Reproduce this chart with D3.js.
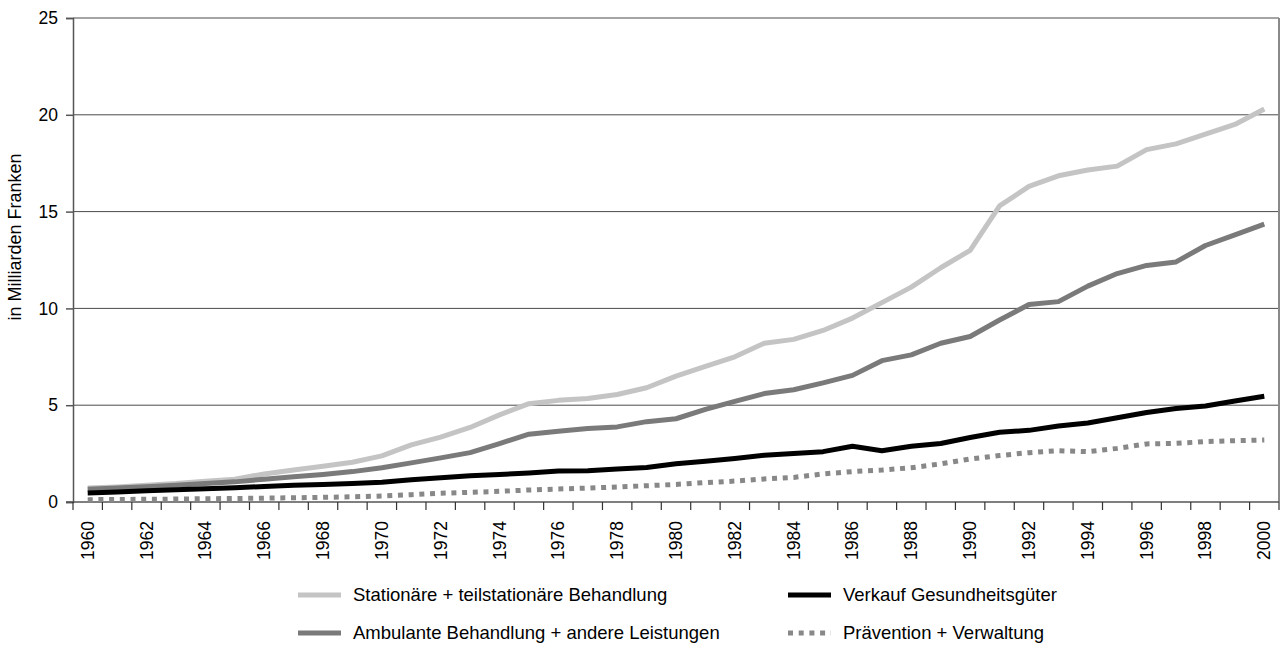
<!DOCTYPE html>
<html><head><meta charset="utf-8">
<script src="https://cdn.jsdelivr.net/npm/d3@7"></script>
<style>
html,body{margin:0;padding:0;background:#fff;}
text{font-family:"Liberation Sans",Arial,Helvetica,sans-serif;fill:#000;}
</style></head>
<body><svg id="c" width="1281" height="648"></svg>
<script>
const years = d3.range(1960, 2001);
const seriesNames = ["Stationäre + teilstationäre Behandlung","Verkauf Gesundheitsgüter","Ambulante Behandlung + andere Leistungen","Prävention + Verwaltung"];
const stationaer = [0.72,0.78,0.87,0.95,1.07,1.18,1.45,1.65,1.85,2.05,2.38,2.95,3.35,3.85,4.5,5.08,5.25,5.35,5.55,5.9,6.5,7.0,7.5,8.2,8.4,8.86,9.5,10.3,11.1,12.1,13.0,15.3,16.3,16.85,17.15,17.35,18.2,18.5,19.0,19.5,20.3];
const ambulant = [0.66,0.72,0.79,0.86,0.96,1.04,1.18,1.3,1.42,1.57,1.77,2.02,2.28,2.55,3.02,3.5,3.66,3.8,3.88,4.15,4.3,4.78,5.2,5.6,5.8,6.15,6.54,7.3,7.6,8.2,8.55,9.4,10.2,10.35,11.15,11.8,12.22,12.4,13.25,13.8,14.35];
const verkauf = [0.47,0.52,0.58,0.63,0.69,0.74,0.8,0.86,0.91,0.96,1.02,1.15,1.25,1.36,1.42,1.5,1.6,1.62,1.7,1.78,1.98,2.1,2.25,2.42,2.5,2.6,2.88,2.65,2.88,3.02,3.33,3.6,3.7,3.93,4.08,4.35,4.62,4.83,4.96,5.22,5.46];
const praevention = [0.12,0.13,0.14,0.15,0.17,0.18,0.2,0.22,0.24,0.27,0.31,0.38,0.45,0.5,0.55,0.62,0.67,0.72,0.77,0.84,0.91,1.0,1.08,1.19,1.27,1.45,1.57,1.65,1.77,1.97,2.22,2.4,2.55,2.65,2.6,2.77,3.0,3.03,3.12,3.17,3.2];
const yTicks = [0,5,10,15,20,25];
const xLabels = years.filter(y => y % 2 === 0);

const svg = d3.select("#c");
const L = 73, R = 1279, T = 18, B = 502;
const x = d3.scaleBand().domain(years).range([L, R]);
const y = d3.scaleLinear().domain([0, 25]).range([B, T]);
const cx = yr => x(yr) + x.bandwidth() / 2;

// gridlines
svg.append("g").selectAll("line").data(yTicks.filter(v => v > 0)).join("line")
  .attr("x1", L).attr("x2", R).attr("y1", d => y(d)).attr("y2", d => y(d))
  .attr("stroke", "#4a4a4a").attr("stroke-width", 1);

// right border
svg.append("line").attr("x1", R).attr("x2", R).attr("y1", T).attr("y2", B)
  .attr("stroke", "#8a8a8a").attr("stroke-width", 2);

// y axis
const yAxis = svg.append("g").attr("transform", `translate(${L},0)`)
  .call(d3.axisLeft(y).tickValues(yTicks).tickSize(7).tickPadding(8).tickFormat(d3.format("d")));
yAxis.select(".domain").attr("stroke", "#555").attr("stroke-width", 1.5);
yAxis.selectAll(".tick line").attr("stroke", "#555").attr("stroke-width", 1.5);
yAxis.selectAll("text").attr("font-size", 17.5).attr("fill", "#000")
  .style("font-family", '"Liberation Sans",Arial,sans-serif');

// x axis: line + ticks at band boundaries
svg.append("line").attr("x1", L - 7).attr("x2", R).attr("y1", B).attr("y2", B)
  .attr("stroke", "#555").attr("stroke-width", 1.5);
const bounds = years.map(yr => x(yr)).concat([R]);
svg.append("g").selectAll("line").data(bounds).join("line")
  .attr("x1", d => d).attr("x2", d => d).attr("y1", B).attr("y2", B + 8)
  .attr("stroke", "#333").attr("stroke-width", 1.2);
svg.append("g").selectAll("text").data(xLabels).join("text")
  .attr("transform", d => `translate(${cx(d) + 6},${B + 19}) rotate(-90)`)
  .attr("text-anchor", "end").attr("font-size", 17.5).text(d => d);

// y title
svg.append("text").attr("transform", `translate(21,237) rotate(-90)`)
  .attr("text-anchor", "middle").attr("font-size", 18).text("in Milliarden Franken");

// lines
const styles = [
  {data: stationaer, color: "#c4c4c4", w: 5, dash: null},
  {data: ambulant, color: "#7a7a7a", w: 5, dash: null},
  {data: verkauf, color: "#000", w: 5, dash: null},
  {data: praevention, color: "#888", w: 5, dash: "5,5.7"}
];
const line = d3.line().x((d, i) => cx(years[i])).y(d => y(d));
styles.forEach(s => {
  svg.append("path").attr("d", line(s.data)).attr("fill", "none")
    .attr("stroke", s.color).attr("stroke-width", s.w)
    .attr("stroke-dasharray", s.dash).attr("stroke-linejoin", "round");
});

// legend
const legend = [
  {name: seriesNames[0], color: "#c4c4c4", dash: null, x: 298, y: 595},
  {name: seriesNames[1], color: "#000", dash: null, x: 788, y: 595},
  {name: seriesNames[2], color: "#7a7a7a", dash: null, x: 298, y: 633},
  {name: seriesNames[3], color: "#888", dash: "5,5.7", x: 788, y: 633}
];
const lg = svg.append("g").selectAll("g").data(legend).join("g");
lg.append("line").attr("x1", d => d.x).attr("x2", d => d.x + 43)
  .attr("y1", d => d.y).attr("y2", d => d.y)
  .attr("stroke", d => d.color).attr("stroke-width", 5).attr("stroke-dasharray", d => d.dash);
lg.append("text").attr("x", d => d.x + 55).attr("y", d => d.y).attr("dy", "0.35em")
  .attr("font-size", 18.5).text(d => d.name);
</script></body></html>
